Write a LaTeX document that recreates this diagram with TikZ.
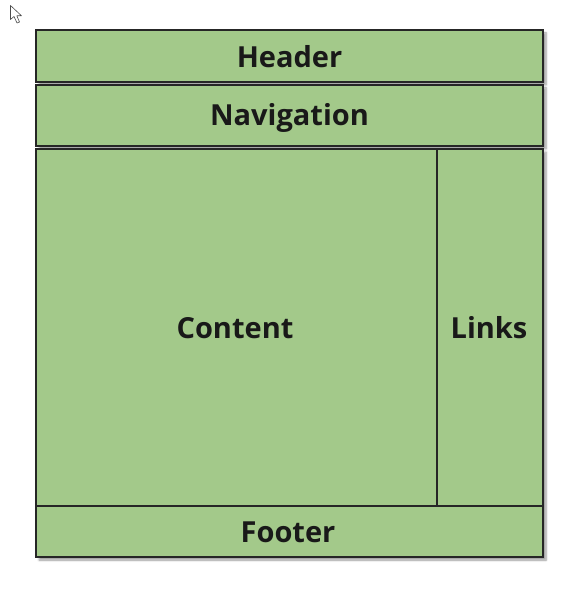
\documentclass[tikz,border=0pt]{standalone}
\usepackage{fontspec}
\setmainfont{Open Sans}
\usetikzlibrary{shadows.blur}
\definecolor{boxgreen}{HTML}{A3C98A}
\tikzset{
  region/.style={draw=black!85, line width=1.3pt, fill=boxgreen,
    blur shadow={shadow xshift=3pt, shadow yshift=-3pt, shadow blur steps=6, shadow opacity=40}},
  lbl/.style={font=\fontsize{29}{33}\selectfont\bfseries, text=black!90}
}
\begin{document}
\begin{tikzpicture}[x=1pt,y=-1pt]
\useasboundingbox (0,0) rectangle (584,593);
% mouse cursor
\draw[black!70, fill=white, line width=0.6pt, line join=round]
  (10.5,5.5) -- (10.5,19.5) -- (14,16.5) -- (17,23) -- (19.5,22) -- (16.8,15.8) -- (21.5,15.8) -- cycle;
% regions
\draw[region] (36,30) rectangle (543,82);
\node[lbl] (header) at (289.5,57) {Header};
\draw[region] (36,85) rectangle (543,146);
\node[lbl] (nav) at (289.5,117.5) {Navigation};
\draw[region] (36,149) rectangle (543,557);
\draw[black!85, line width=1.3pt] (36,506) -- (543,506);
\draw[black!85, line width=1.3pt] (437,149) -- (437,506);
\node[lbl] (content) at (235,328) {Content};
\node[lbl] (links) at (489,328) {Links};
\node[lbl] (footer) at (288,532.5) {Footer};
\end{tikzpicture}
\end{document}
